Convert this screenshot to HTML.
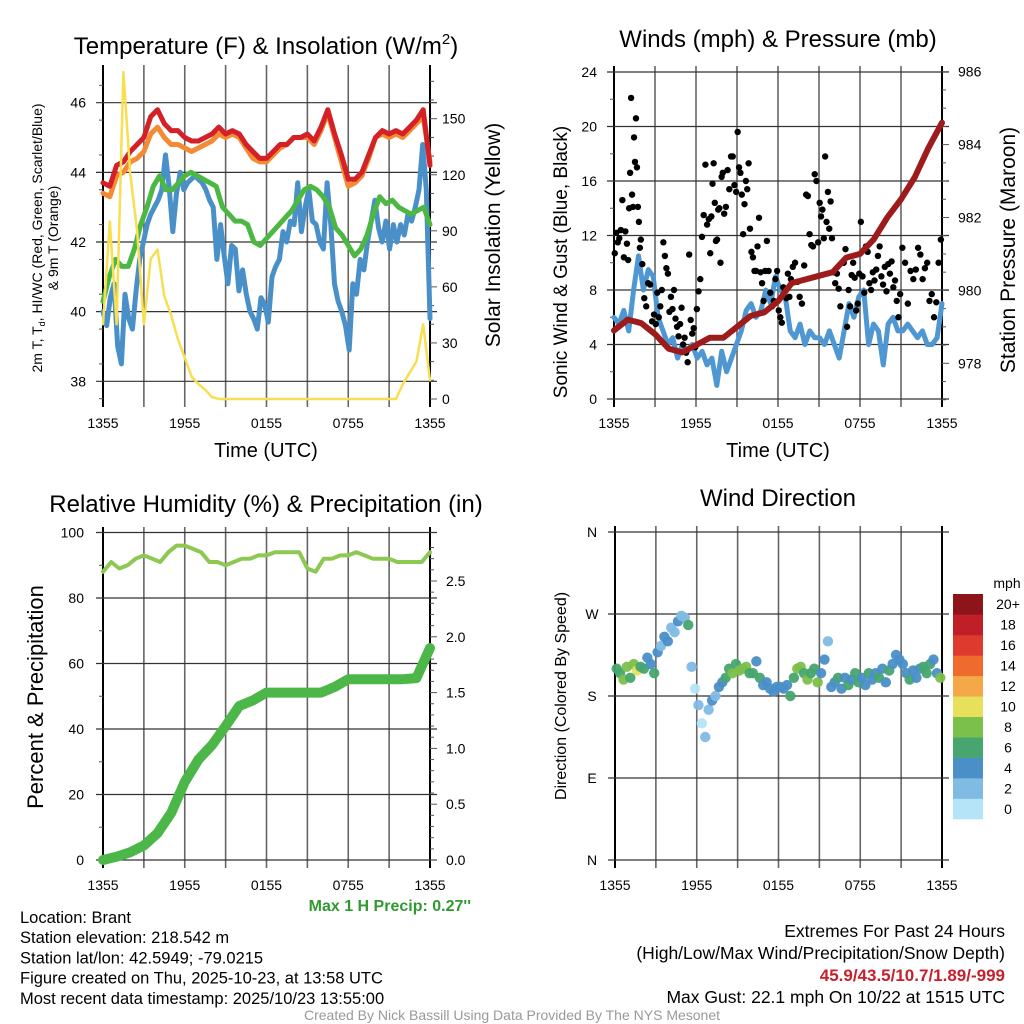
<!DOCTYPE html>
<html><head><meta charset="utf-8"><style>
html,body{margin:0;padding:0;background:#fff;}
svg{display:block;font-family:"Liberation Sans",sans-serif;}
</style></head><body>
<svg id="s" width="1024" height="1024" viewBox="0 0 1024 1024" xmlns="http://www.w3.org/2000/svg"></svg>
<script>
// ---------- DATA ----------
const timeLabels = ["1355","1955","0155","0755","1355"];
const tempRed = [43.7,43.6,44.2,44.3,44.6,44.8,45.0,45.6,45.8,45.4,45.2,45.2,45.0,44.9,44.9,45.0,45.1,45.3,45.1,45.2,45.1,44.8,44.6,44.4,44.4,44.6,44.8,44.8,45.0,45.0,45.1,44.9,45.3,45.8,45.1,44.5,43.8,43.8,44.0,44.5,45.0,45.2,45.1,45.2,45.1,45.3,45.5,45.8,44.2];
const tempOrange = [43.4,43.3,43.9,44.0,44.3,44.4,44.6,45.1,45.3,45.0,44.8,44.8,44.7,44.6,44.7,44.8,44.9,45.1,45.0,45.1,45.0,44.7,44.4,44.3,44.3,44.5,44.7,44.8,45.0,45.0,45.0,44.8,45.2,45.7,45.0,44.3,43.6,43.7,43.9,44.4,45.0,45.1,45.0,45.1,45.0,45.2,45.4,45.6,44.3];
const dewGreen = [40.3,41.0,41.5,41.3,41.3,41.8,42.5,43.0,43.6,43.9,43.5,43.5,43.7,43.9,44.0,43.9,43.8,43.7,43.6,43.0,42.8,42.6,42.6,42.5,42.0,41.9,42.1,42.3,42.5,42.7,42.9,43.2,43.5,43.6,43.5,43.3,43.0,42.4,42.2,41.9,41.6,41.8,42.2,42.8,43.3,43.1,43.2,43.0,42.9,42.8,42.9,43.0,42.5];
const hiwcBlue = [40.0,39.6,40.4,40.8,39.0,38.5,40.5,39.8,39.5,40.6,41.5,42.0,42.5,42.8,43.0,43.2,43.5,44.5,43.6,42.3,43.4,44.0,43.5,43.7,43.8,43.9,43.8,43.7,43.5,43.2,43.0,41.5,42.5,41.6,40.8,41.9,41.8,40.6,41.2,40.5,40.0,39.8,39.5,40.4,40.2,39.7,41.0,41.3,41.5,42.3,42.0,42.6,42.5,43.7,42.3,43.0,43.5,42.6,42.5,42.0,41.8,43.7,42.5,40.8,40.3,40.0,39.6,38.9,40.8,40.5,41.5,41.2,42.0,42.6,43.2,42.4,42.0,42.6,41.8,42.5,42.0,42.5,42.2,42.8,42.6,43.0,43.5,44.8,43.5,39.8];
const solarYellow = [40,95,40,175,120,90,40,75,80,55,45,32,22,12,8,5,1,0,0,0,0,0,0,0,0,0,0,0,0,0,0,0,0,0,0,0,0,0,0,0,0,0,0,0,8,14,20,40,10];
const tempTicks = [38,40,42,44,46];
const solarTicks = [0,30,60,90,120,150];

const sonicWind = [6,5.5,6.5,5,8,10.5,8,9.5,9,6,5,4,4.5,3,4,3.5,4,3,3.5,2.5,3,1,3.5,2,3,4,5,6.5,7,6,6.5,8,7,9,8,7.5,5,4.5,5.5,4,5,4.5,4.5,4,5,4,3,5,7,6,7.5,8,4,5.5,5,2.5,5.5,6,5,5,5.5,5,4.5,5,4,4,4.5,7];
const gustBuckets = [
 [10.7,12.2,11.5,11.8,12.4,14.6,10.4,12.3,11.4],
 [10.2,14,16.6,22.1,15,14.1,19.2,17.4,20.6,17,14.1,13,11.1,11.7],
 [9.9,7.4,6.8,8.5,8.4,5.7,6.2],
 [5.5,7.8,6.0,6.8,8.0,11.5,10.5,9.6,9.2],
 [6.4,7.5,6.6,8.0,5.9,5.3,4.6,5.5,6.7],
 [4.0,4.5,3.4,2.7,10.6,5.8,4.8,5.2,3.8],
 [6.6,7.9,8.8,11.9,13.5,17.2,12.8,13.2],
 [10.7,13.4,15.8,17.3,14.4,11.6,11.7,13.9,14.0,10.0,16.3,16.6],
 [13.6,14.1,16.8,15.4,17.8,17.8,15.7,15.2],
 [19.6,17.0,16.6,15.0,12.1,14.3,16.0,15.4,17.3,12.5],
 [10.8,10.4,9.4,9.4,11.2,13.3,9.3,8.5,7.2],
 [9.4,11.6,9.4,7.8,6.8,7.2,8.8,9.4],
 [6.5,6.0,5.6,8.2,8.0,7.4,9.2,7.5,8.8],
 [9.7,10.0,8.6,7.5,7.0,9.8],
 [15.0,14.9,12.1,11.3,11.2,16.5,16.0,11.5],
 [14.4,13.4,13.9,11.8,17.8,13.0,15.2,12.5,14.5,11.8],
 [9.3,8.5,9.2,8.1,6.8,10.0,10.0,11.0],
 [5.3,8.0,6.8,9.1,10.0,8.9,6.5,7.0,9.2],
 [13.0,9.0,7.8,11.2,10.8,8.5,8.0,9.3],
 [8.7,9.5,10.5,11.2,9.0,8.4,9.7,7.9],
 [9.9,9.2,10.1,8.2,8.7,7.2,6.0,7.7],
 [11.1,10.0,7.0,9.4,8.8],
 [9.5,11.1,10.6,8.8,9.6,10.0],
 [7.2,7.7,6.0,7.1,10.0,11.7]
];
const pressure = [978.9,979.2,979.1,978.8,978.4,978.3,978.5,978.7,978.7,979.0,979.3,979.4,979.7,980.2,980.3,980.4,980.5,980.9,981.0,981.4,982.0,982.5,983.1,983.9,984.6];
const windTicks = [0,4,8,12,16,20,24];
const pressTicks = [978,980,982,984,986];

const rh = [88,91,89,90,92,93,92,91,94,96,96,95,94,91,91,90,91,92,92,93,93,94,94,94,94,89,88,92,92,93,93,94,93,92,92,92,91,91,91,91,94];
const precip = [0,0.03,0.07,0.13,0.24,0.42,0.7,0.9,1.03,1.2,1.38,1.43,1.5,1.5,1.5,1.5,1.5,1.55,1.62,1.62,1.62,1.62,1.62,1.63,1.9];
const pctTicks = [0,20,40,60,80,100];
const precipTicks = ["0.0","0.5","1.0","1.5","2.0","2.5"];

const windDir = [210,205,198,212,200,215,208,212,210,222,215,205,228,235,245,240,255,250,262,268,266,258,212,188,170,150,135,165,175,180,190,195,200,210,205,215,208,210,212,205,205,218,200,192,195,188,185,190,190,188,192,180,200,210,212,205,198,205,210,195,205,220,240,190,195,200,188,200,192,198,205,195,200,192,205,198,205,200,210,195,208,215,225,220,215,205,198,208,200,210,212,205,215,220,205,200];
const windSpd = [6,7,8,9,7,8,10,6,6,5,4,6,4,3,5,4,3,2,4,3,3,6,2,1,2,1,3,2,4,3,5,4,6,7,8,6,8,9,8,7,7,5,6,4,5,4,5,4,4,5,4,6,7,8,9,7,8,7,6,8,5,4,2,5,4,6,5,4,6,5,7,6,5,4,6,5,5,6,4,5,6,5,4,5,4,5,6,5,4,5,6,7,6,5,4,8];
const dirLabels = ["N","E","S","W","N"];
const spdLabels = ["0","2","4","6","8","10","12","14","16","18","20+"];
const spdColors = ["#b5e4f8","#80bbe4","#4a8fc7","#47a56f","#7bc04b","#e6e05b","#f5a847","#ee6a2d","#de3a2e","#c11f27","#8d1519"];

// ---------- HELPERS ----------
const svg = document.getElementById('s');
const NS = "http://www.w3.org/2000/svg";
function el(tag, attrs, name, parent){
  const e = document.createElementNS(NS, tag);
  for (const k in attrs) e.setAttribute(k, attrs[k]);
  
  
  (parent||svg).appendChild(e);
  return e;
}
function txt(x,y,s,size,anchor,name,extra){
  const a = Object.assign({x:x,y:y,'font-size':size,'text-anchor':anchor||'middle',fill:'#000'}, extra||{});
  const t = el('text', a, name);
  t.textContent = s;
  return t;
}
function lin(d0,d1,r0,r1){ return v => r0 + (v-d0)/(d1-d0)*(r1-r0); }
function frame(P, nx, yTicksPx, name){
  const g = el('g',{},name+'-grid');
  for (let i=0;i<=nx;i++){
    const x = P.x0 + i*(P.x1-P.x0)/nx;
    el('line',{x1:x,y1:P.y0-6,x2:x,y2:P.y1+8,stroke:(i==0||i==nx)?'#000':'#666','stroke-width':(i==0||i==nx)?2:1.6},name+'-vgrid',g);
  }
  yTicksPx.forEach(y=>{
    el('line',{x1:P.x0-7,y1:y,x2:P.x1+7,y2:y,stroke:'#333','stroke-width':1.2},name+'-hgrid',g);
  });
  return g;
}
function poly(arr, fx, fy, color, w, name, n){
  const N = n || arr.length;
  const pts = arr.map((v,i)=> fx(i/(N-1)*24).toFixed(1)+','+fy(v).toFixed(1)).join(' ');
  el('polyline',{points:pts,fill:'none',stroke:color,'stroke-width':w,'stroke-linejoin':'round','stroke-linecap':'round'},name);
}
function xLabels(P, y){
  timeLabels.forEach((s,i)=>{
    const x = P.x0 + i*(P.x1-P.x0)/4;
    txt(x,y,s,14,'middle','x-tick-label');
  });
}

// ---------- PANEL 1: Temperature ----------
const P1 = {x0:103,x1:430,y0:71,y1:399};
const t1x = lin(0,24,P1.x0,P1.x1);
const t1y = lin(38,46,381.3,102.7);
const s1y = lin(0,150,399,118.7);
frame(P1,8,tempTicks.map(t1y),'temp');
for (let v=0; v<=175; v+=10){ el('line',{x1:P1.x1,y1:s1y(v),x2:P1.x1+(v%30==0?7:4),y2:s1y(v),stroke:'#555','stroke-width':1},'solar-minor-tick'); }
for (let v=37.5; v<=47; v+=1){ if(v%2!=0) el('line',{x1:P1.x0-4,y1:t1y(v),x2:P1.x0,y2:t1y(v),stroke:'#555','stroke-width':1},'temp-minor-tick'); }
poly(hiwcBlue,t1x,t1y,'#4a90c8',5,'hiwc-line');
poly(dewGreen,t1x,t1y,'#4cb843',5,'dewpoint-line');
poly(tempOrange,t1x,t1y,'#f48a34',5,'temp-9m-line');
poly(tempRed,t1x,t1y,'#d42027',5,'temp-2m-line');
poly(solarYellow,t1x,s1y,'#f8de52',2.5,'solar-line');
tempTicks.forEach(v=>txt(86,t1y(v)+5,String(v),14,'end','temp-tick-label'));
solarTicks.forEach(v=>txt(442,s1y(v)+5,String(v),14,'start','solar-tick-label'));
xLabels(P1,428);
txt(266,457,'Time (UTC)',20,'middle','temp-x-title');
txt(266,54,'',24,'middle','temp-title').innerHTML='Temperature (F) &amp; Insolation (W/m<tspan font-size="15" dy="-10">2</tspan><tspan dy="10">)</tspan>';
txt(0,0,'',14,'middle','temp-y-title',{transform:'translate(42,238) rotate(-90)'}).innerHTML='2m T, T<tspan font-size="9" dy="3">d</tspan><tspan dy="-3">, HI/WC (Red, Green, Scarlet/Blue)</tspan>';
txt(0,0,'& 9m T (Orange)',14,'middle','temp-y-title-2',{transform:'translate(58,238) rotate(-90)'});
txt(0,0,'Solar Insolation (Yellow)',21,'middle','solar-y-title',{transform:'translate(500,235) rotate(-90)'});

// ---------- PANEL 2: Winds ----------
const P2 = {x0:614,x1:942,y0:72,y1:399};
const w2x = lin(0,24,P2.x0,P2.x1);
const w2y = lin(0,24,399,72);
const p2y = lin(978,986,363.3,71.7);
frame(P2,8,windTicks.map(w2y),'wind');
for (let v=977; v<=986; v+=0.5){ el('line',{x1:P2.x1,y1:p2y(v),x2:P2.x1+(v%2==0?7:4),y2:p2y(v),stroke:'#555','stroke-width':1},'pressure-minor-tick'); }
for (let v=2; v<=24; v+=4){ el('line',{x1:P2.x0-4,y1:w2y(v),x2:P2.x0,y2:w2y(v),stroke:'#555','stroke-width':1},'wind-minor-tick'); }
poly(sonicWind,w2x,w2y,'#4f97d2',5,'sonic-wind-line');
gustBuckets.forEach((b,h)=>{
  b.forEach((v,j)=>{
    const t = h + (j+0.5)/b.length;
    el('circle',{cx:w2x(t),cy:w2y(v),r:3.2,fill:'#000'},'gust-point');
  });
});
poly(pressure,w2x,p2y,'#9e1b1b',6,'pressure-line');
windTicks.forEach(v=>txt(597,w2y(v)+5,String(v),14,'end','wind-tick-label'));
pressTicks.forEach(v=>txt(958,p2y(v)+5,String(v),14,'start','pressure-tick-label'));
xLabels(P2,428);
txt(778,457,'Time (UTC)',20,'middle','wind-x-title');
txt(778,47,'Winds (mph) & Pressure (mb)',24,'middle','wind-title');
txt(0,0,'Sonic Wind & Gust (Blue, Black)',19,'middle','wind-y-title',{transform:'translate(567,262) rotate(-90)'});
txt(0,0,'Station Pressure (Maroon)',21,'middle','pressure-y-title',{transform:'translate(1015,250) rotate(-90)'});

// ---------- PANEL 3: RH & Precip ----------
const P3 = {x0:103,x1:430,y0:533,y1:860};
const r3x = lin(0,24,P3.x0,P3.x1);
const r3y = lin(0,100,860,532.5);
const pr3y = lin(0,2.5,860,581);
frame(P3,8,pctTicks.map(r3y),'rh');
for (let v=0; v<=2.9; v+=0.1){ el('line',{x1:P3.x1,y1:pr3y(v),x2:P3.x1+(Math.abs(v*2-Math.round(v*2))<0.01?7:4),y2:pr3y(v),stroke:'#555','stroke-width':1},'precip-minor-tick'); }
for (let v=10; v<=90; v+=20){ el('line',{x1:P3.x0-4,y1:r3y(v),x2:P3.x0,y2:r3y(v),stroke:'#555','stroke-width':1},'rh-minor-tick'); }
poly(rh,r3x,r3y,'#8dc852',4,'rh-line');
poly(precip,r3x,pr3y,'#4cb748',10,'precip-line');
pctTicks.forEach(v=>txt(84,r3y(v)+5,String(v),14,'end','rh-tick-label'));
precipTicks.forEach(s=>txt(446,pr3y(parseFloat(s))+5,s,14,'start','precip-tick-label'));
xLabels(P3,890);
txt(266,512,'Relative Humidity (%) & Precipitation (in)',24,'middle','rh-title');
txt(0,0,'Percent & Precipitation',22,'middle','rh-y-title',{transform:'translate(43,697) rotate(-90)'});
txt(471,911,'Max 1 H Precip: 0.27\'\'',16,'end','max-precip-text',{fill:'#2f9a2f','font-weight':'bold'});

// ---------- PANEL 4: Wind direction ----------
const P4 = {x0:615,x1:942,y0:532,y1:860};
const d4x = lin(0,24,P4.x0,P4.x1);
const d4y = lin(0,360,860,532);
frame(P4,8,[0,90,180,270,360].map(d4y),'dir');
windDir.forEach((d,i)=>{
  const t = (i+0.5)/windDir.length*24;
  const c = spdColors[Math.min(10,Math.floor(windSpd[i]/2))];
  el('circle',{cx:d4x(t),cy:d4y(d),r:5.2,fill:c,'fill-opacity':0.95},'wind-direction-point');
});
dirLabels.forEach((s,i)=>txt(592,d4y(i*90)+5,s,14,'middle','dir-tick-label'));
xLabels(P4,890);
txt(778,506,'Wind Direction',24,'middle','dir-title');
txt(0,0,'Direction (Colored By Speed)',16,'middle','dir-y-title',{transform:'translate(566,696) rotate(-90)'});
const cb = el('g',{},'speed-colorbar');
spdColors.forEach((c,i)=>{
  const h = 225/11;
  el('rect',{x:953,y:819-(i+1)*h,width:30,height:h+0.3,fill:c},'colorbar-box',cb);
  txt(1008,819-(i+0.5)*h+5,spdLabels[i],14,'middle','colorbar-label');
});
txt(1007,588,'mph',14,'middle','colorbar-title');

// ---------- FOOTER TEXT ----------
const left = ["Location: Brant","Station elevation: 218.542 m","Station lat/lon: 42.5949; -79.0215","Figure created on Thu, 2025-10-23, at 13:58 UTC","Most recent data timestamp: 2025/10/23 13:55:00"];
left.forEach((s,i)=>txt(20,923+i*20.2,s,16.5,'start','station-info-line'));
txt(1005,937,'Extremes For Past 24 Hours',17.5,'end','extremes-title');
txt(1005,959,'(High/Low/Max Wind/Precipitation/Snow Depth)',17.5,'end','extremes-subtitle');
txt(1005,981,'45.9/43.5/10.7/1.89/-999',17,'end','extremes-values',{fill:'#c8202a','font-weight':'bold'});
txt(1005,1003,'Max Gust: 22.1 mph On 10/22 at 1515 UTC',17.5,'end','max-gust-text');
txt(512,1020,'Created By Nick Bassill Using Data Provided By The NYS Mesonet',14,'middle','credit-text',{fill:'#999'});
</script>
</body></html>
